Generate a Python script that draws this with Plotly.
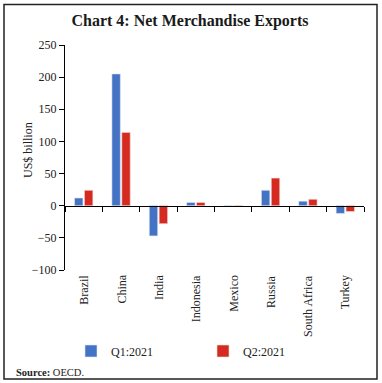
import plotly.graph_objects as go

categories = ["Brazil", "China", "India", "Indonesia", "Mexico", "Russia", "South Africa", "Turkey"]
q1_2021 = [12, 205, -47, 5, 0.5, 24, 7, -12]
q2_2021 = [24, 114, -28, 5, -1, 43, 10, -9]
y_ticks = [-100, -50, 0, 50, 100, 150, 200, 250]

FONT = "Liberation Serif"
BLUE = "#4472C4"
RED = "#D42A1F"

W, H = 382, 383
L, R, T, B = 65, 18, 45, 113
pw, ph = W - L - R, H - T - B

def px(x):
    return (x - L) / pw

def py(y):
    return (H - B - y) / ph

ymin, ymax = -100, 250

fig = go.Figure()
fig.add_trace(go.Bar(x=categories, y=q1_2021, name="Q1:2021",
                     marker=dict(color=BLUE, line=dict(color="#dfe6f2", width=0.6))))
fig.add_trace(go.Bar(x=categories, y=q2_2021, name="Q2:2021",
                     marker=dict(color=RED, line=dict(color="#f2dcdc", width=0.6))))

n = len(categories)
zero_pos = (0 - ymin) / (ymax - ymin)

# category labels: rotated, top-aligned just below the plot area
cat_labels = [dict(text=c, xref="x", yref="paper", x=c, y=py(273), textangle=-90,
                   xanchor="center", yanchor="top", showarrow=False,
                   font=dict(family=FONT, size=12, color="#222"))
              for c in categories]

fig.update_layout(
    width=W, height=H,
    margin=dict(l=L, r=R, t=T, b=B),
    paper_bgcolor="white", plot_bgcolor="white",
    font=dict(family=FONT, size=12, color="#222"),
    barmode="group", bargap=0.47, bargroupgap=0.15,
    showlegend=True,
    legend=dict(orientation="h", x=px(71), xanchor="left", y=py(351), yanchor="middle",
                entrywidth=87, entrywidthmode="pixels",
                font=dict(family=FONT, size=12, color="#222"), tracegroupgap=0),
    xaxis=dict(type="category", categoryorder="array", categoryarray=categories,
               range=[-0.5, n - 0.5], showline=False, ticks="", showticklabels=False,
               showgrid=False, zeroline=False),
    xaxis2=dict(overlaying="x", anchor="free", position=zero_pos, side="bottom",
                range=[-0.5, n - 0.5], tickvals=[i - 0.5 for i in range(n + 1)],
                showticklabels=False, ticks="outside", ticklen=5, tickcolor="black",
                showline=True, linecolor="black", linewidth=1, showgrid=False,
                zeroline=False),
    yaxis=dict(range=[ymin, ymax], tickvals=y_ticks, showline=True, linecolor="black",
               linewidth=1, ticks="outside", ticklen=5, tickcolor="black",
               showgrid=False, zeroline=False,
               tickfont=dict(family=FONT, size=12, color="#222")),
    title=dict(text="<b>Chart 4: Net Merchandise Exports</b>", x=190 / W, xanchor="center",
               y=1 - 20 / H, yanchor="middle",
               font=dict(family=FONT, size=16, color="#1a1a1a")),
    shapes=[dict(type="rect", xref="paper", yref="paper",
                 x0=px(4), x1=px(377), y0=py(379), y1=py(4.5),
                 line=dict(color="#222", width=1.5), fillcolor="rgba(0,0,0,0)")],
    annotations=cat_labels + [
        dict(text="<b>Source:</b> OECD.", xref="paper", yref="paper",
             x=px(14), y=py(372), xanchor="left", yanchor="middle",
             showarrow=False, font=dict(family=FONT, size=10.5, color="#222")),
        dict(text="US$ billion", xref="paper", yref="paper", textangle=-90,
             x=px(28), y=py(150), xanchor="center", yanchor="middle",
             showarrow=False, font=dict(family=FONT, size=12, color="#222")),
    ],
)
# invisible helper trace so the zero-line category axis is drawn
fig.add_trace(go.Scatter(x=[0], y=[0], xaxis="x2", mode="markers",
                         marker=dict(opacity=0), showlegend=False, hoverinfo="skip"))

fig.write_html("out.html", config={"displayModeBar": False},
               post_script="document.body.style.margin='0';document.body.style.overflow='hidden';")
